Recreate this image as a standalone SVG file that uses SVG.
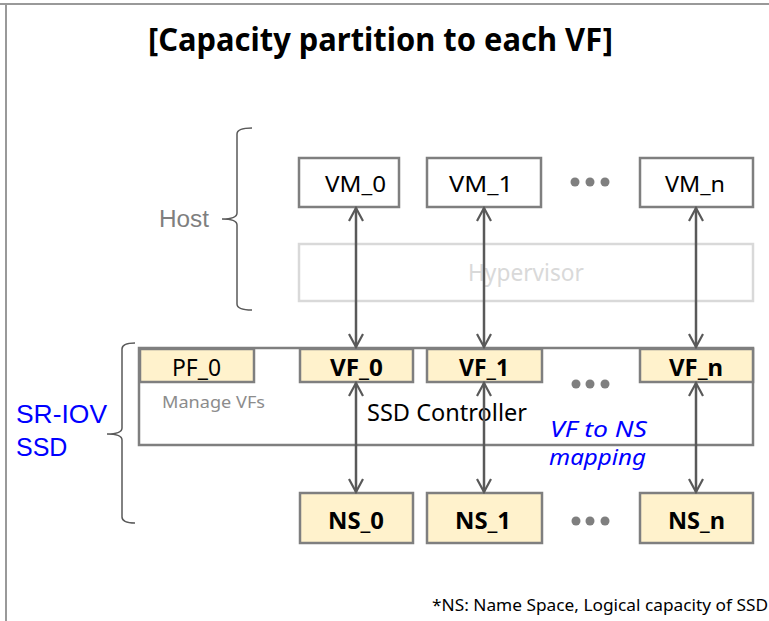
<svg xmlns="http://www.w3.org/2000/svg" width="769" height="621" viewBox="0 0 769 621">
<defs>
<marker id="ah" viewBox="0 0 16 16" refX="14" refY="8" markerWidth="16" markerHeight="16" markerUnits="userSpaceOnUse" orient="auto-start-reverse">
<path d="M1,1 L14,8 L1,15" fill="none" stroke="#595959" stroke-width="2.2"/>
</marker>
<style>
.frame{stroke:#999;stroke-width:2;fill:none}
.vm{fill:#fff;stroke:#7f7f7f;stroke-width:2.5}
.cell{fill:#fff2cc;stroke:#7f7f7f;stroke-width:2.5}
.ctrl{fill:#fff;stroke:#7f7f7f;stroke-width:2.5}
.hyp{fill:#fff;stroke:#d9d9d9;stroke-width:2.5}
.brace{fill:none;stroke:#595959;stroke-width:1.5}
.conn{stroke:#595959;stroke-width:2.5;fill:none;marker-start:url(#ah);marker-end:url(#ah)}
.dot{fill:#7f7f7f}
.t{font-family:"Liberation Sans",Arial,sans-serif;text-anchor:middle}
.n{font-family:"Noto Sans","Open Sans",sans-serif;text-anchor:middle}
.b{font-weight:bold}
</style>
</defs>
<rect width="769" height="621" fill="#fff"/>
<path class="frame" d="M0,4 H769 M6,4 V621"/>
<text x="380.5" y="51" class="n b" font-size="32" textLength="465" lengthAdjust="spacingAndGlyphs" fill="#000">[Capacity partition to each VF]</text>

<g id="host-brace">
<path class="brace" d="M252,128 Q237,128 237,134 V213 Q237,219 222,219 Q237,219 237,225 V304 Q237,310 252,310"/>
<text x="184" y="227" class="t" font-size="23" textLength="50" lengthAdjust="spacingAndGlyphs" fill="#7f7f7f">Host</text>
</g>
<g id="ssd-brace">
<path class="brace" d="M135,343 Q122,343 122,349 V428 Q122,434 107,434 Q122,434 122,440 V517 Q122,523 135,523"/>
<text x="16" y="423" font-family="Liberation Sans,Arial,sans-serif" font-size="25" textLength="91" lengthAdjust="spacingAndGlyphs" fill="#0000ff">SR-IOV</text>
<text x="16" y="456" font-family="Liberation Sans,Arial,sans-serif" font-size="25" fill="#0000ff">SSD</text>
</g>

<g id="vm0"><rect class="vm" x="299" y="158" width="100" height="49"/><text x="355.5" y="192" class="n" font-size="22" textLength="61" lengthAdjust="spacingAndGlyphs">VM_0</text></g>
<g id="vm1"><rect class="vm" x="427" y="158" width="114" height="49"/><text x="481" y="192" class="n" font-size="22" textLength="64" lengthAdjust="spacingAndGlyphs">VM_1</text></g>
<g id="vmn"><rect class="vm" x="640" y="158" width="113" height="49"/><text x="695" y="192" class="n" font-size="22" textLength="60" lengthAdjust="spacingAndGlyphs">VM_n</text></g>
<g id="dots-top"><circle class="dot" cx="575" cy="182" r="4.5"/><circle class="dot" cx="590" cy="182" r="4.5"/><circle class="dot" cx="605" cy="182" r="4.5"/></g>

<g id="hypervisor"><rect class="hyp" x="299" y="244" width="454" height="57"/><text x="526" y="281" class="n" font-size="23" textLength="116" lengthAdjust="spacingAndGlyphs" fill="#d9d9d9">Hypervisor</text></g>

<g id="ssd-controller"><rect class="ctrl" x="139" y="348" width="614" height="97"/>
<text x="447" y="421" class="n" font-size="23" textLength="160" lengthAdjust="spacingAndGlyphs">SSD Controller</text>
<text x="162" y="408" font-family="Noto Sans,Open Sans,sans-serif" font-size="17" textLength="103" lengthAdjust="spacingAndGlyphs" fill="#8c8c8c">Manage VFs</text>
</g>
<g id="pf0"><rect class="cell" x="140" y="349" width="114" height="33"/><text x="196.5" y="376" class="n" font-size="23" textLength="49" lengthAdjust="spacingAndGlyphs">PF_0</text></g>
<g id="vf0"><rect class="cell" x="300" y="349" width="113" height="33"/><text x="356.5" y="376" class="n b" font-size="23" textLength="53" lengthAdjust="spacingAndGlyphs">VF_0</text></g>
<g id="vf1"><rect class="cell" x="427" y="349" width="115" height="33"/><text x="484" y="376" class="n b" font-size="23" textLength="50" lengthAdjust="spacingAndGlyphs">VF_1</text></g>
<g id="vfn"><rect class="cell" x="640" y="349" width="113" height="33"/><text x="696" y="376" class="n b" font-size="23" textLength="54" lengthAdjust="spacingAndGlyphs">VF_n</text></g>
<g id="dots-mid"><circle class="dot" cx="576" cy="384" r="4.5"/><circle class="dot" cx="590" cy="384" r="4.5"/><circle class="dot" cx="605" cy="384" r="4.5"/></g>

<g id="mapping-label">
<text x="598.5" y="437" class="n" font-size="22" font-style="italic" textLength="97" lengthAdjust="spacingAndGlyphs" fill="#0000ff">VF to NS</text>
<text x="597.5" y="465" class="n" font-size="22" font-style="italic" textLength="97" lengthAdjust="spacingAndGlyphs" fill="#0000ff">mapping</text>
</g>

<g id="ns0"><rect class="cell" x="300" y="493" width="113" height="50"/><text x="356" y="529" class="n b" font-size="23" textLength="56" lengthAdjust="spacingAndGlyphs">NS_0</text></g>
<g id="ns1"><rect class="cell" x="427" y="493" width="115" height="50"/><text x="483" y="529" class="n b" font-size="23" textLength="56" lengthAdjust="spacingAndGlyphs">NS_1</text></g>
<g id="nsn"><rect class="cell" x="640" y="493" width="113" height="50"/><text x="696.5" y="529" class="n b" font-size="23" textLength="57" lengthAdjust="spacingAndGlyphs">NS_n</text></g>
<g id="dots-bot"><circle class="dot" cx="576" cy="521" r="4.5"/><circle class="dot" cx="590" cy="521" r="4.5"/><circle class="dot" cx="605" cy="521" r="4.5"/></g>

<g id="connectors">
<line class="conn" x1="356" y1="208" x2="356" y2="347"/>
<line class="conn" x1="484" y1="208" x2="484" y2="347"/>
<line class="conn" x1="696" y1="208" x2="696" y2="347"/>
<line class="conn" x1="356" y1="383" x2="356" y2="492"/>
<line class="conn" x1="484" y1="383" x2="484" y2="492"/>
<line class="conn" x1="696" y1="383" x2="696" y2="492"/>
</g>

<text x="600" y="611" class="n" font-size="16" textLength="336" lengthAdjust="spacingAndGlyphs">*NS: Name Space, Logical capacity of SSD</text>
</svg>
